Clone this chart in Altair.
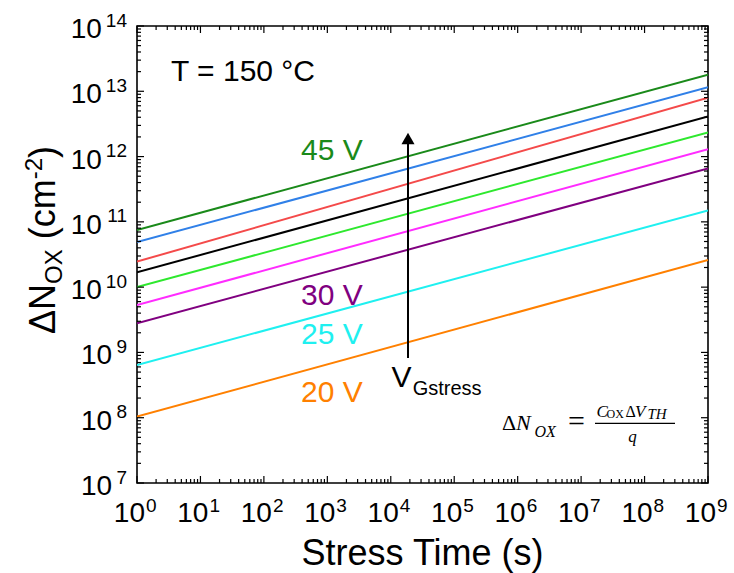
import altair as alt
import pandas as pd

# ---------------- data ----------------
series = ["20 V", "25 V", "30 V", "32.5 V", "35 V", "37.5 V", "40 V", "42.5 V", "45 V"]
colors = ["#ff8000", "#1ff0f0", "#800080", "#ff2cff", "#2ee82e", "#000000",
          "#f44a4a", "#3080e8", "#1a8a1a"]
t_start = 1.0
t_end = 1e9
n_start = [1.04e8, 6.4e8, 2.8e9, 5.3e9, 1.0e10, 1.69e10, 2.46e10, 4.9e10, 7.5e10]
n_end = [2.6e10, 1.5e11, 6.6e11, 1.3e12, 2.35e12, 4.1e12, 8.0e12, 1.15e13, 1.8e13]

x_exps = list(range(0, 10))
y_exps = list(range(7, 15))

labeled = ["45 V", "30 V", "25 V", "20 V"]

# ---------------- layout ----------------
W, H = 571, 457
FONT = "Liberation Sans"
SERIF = "Liberation Serif"

xs = alt.Scale(type="log", domain=[1, 1e9], nice=False)
ys = alt.Scale(type="log", domain=[1e7, 1e14], nice=False)

rows = []
for s, a, b in zip(series, n_start, n_end):
    rows.append({"series": s, "t": t_start, "n": a})
    rows.append({"series": s, "t": t_end, "n": b})
lines_df = pd.DataFrame(rows)

lines = alt.Chart(lines_df).mark_line(strokeWidth=2, clip=True).encode(
    x=alt.X("t:Q", scale=xs, axis=None),
    y=alt.Y("n:Q", scale=ys, axis=None),
    color=alt.Color("series:N", scale=alt.Scale(domain=series, range=colors), legend=None),
    detail="series:N",
)

x_major = [10.0 ** e for e in x_exps]
x_minor = [m * 10.0 ** e for e in x_exps[:-1] for m in range(2, 10)]
y_major = [10.0 ** e for e in y_exps]
y_minor = [m * 10.0 ** e for e in y_exps[:-1] for m in range(2, 10)]


def xticks(vals, length, top):
    df = pd.DataFrame({"t": vals})
    if top:
        yy, yy2 = alt.value(0), alt.value(length)
    else:
        yy, yy2 = alt.value(H), alt.value(H - length)
    return alt.Chart(df).mark_rule(color="black", strokeWidth=1.2).encode(
        x=alt.X("t:Q", scale=xs, axis=None), y=yy, y2=yy2)


def yticks(vals, length, right):
    df = pd.DataFrame({"n": vals})
    if right:
        xx, xx2 = alt.value(W), alt.value(W - length)
    else:
        xx, xx2 = alt.value(0), alt.value(length)
    return alt.Chart(df).mark_rule(color="black", strokeWidth=1.2).encode(
        y=alt.Y("n:Q", scale=ys, axis=None), x=xx, x2=xx2)


ticks = [
    xticks(x_major, 7, False), xticks(x_minor, 4, False),
    xticks(x_major, 7, True), xticks(x_minor, 4, True),
    yticks(y_major, 7, False), yticks(y_minor, 4, False),
    yticks(y_major, 7, True), yticks(y_minor, 4, True),
]

# x tick labels
xlab_df = pd.DataFrame({"t": x_major, "e": [str(e) for e in x_exps]})
xlab10 = alt.Chart(xlab_df).mark_text(
    text="10", align="right", baseline="alphabetic", dx=8, fontSize=28, font=FONT, color="black"
).encode(x=alt.X("t:Q", scale=xs, axis=None), y=alt.value(H + 39))
xlabe = alt.Chart(xlab_df).mark_text(
    align="left", baseline="alphabetic", dx=9, fontSize=19, font=FONT, color="black"
).encode(x=alt.X("t:Q", scale=xs, axis=None), y=alt.value(H + 29), text="e:N")

# y tick labels
ylab_layers = []
for nd, x10 in [(1, -24.8), (2, -35.2)]:
    sub = [e for e in y_exps if len(str(e)) == nd]
    df = pd.DataFrame({"n": [10.0 ** e for e in sub], "e": [str(e) for e in sub]})
    ylab_layers.append(alt.Chart(df).mark_text(
        text="10", align="right", baseline="alphabetic", dy=12, fontSize=28, font=FONT, color="black"
    ).encode(y=alt.Y("n:Q", scale=ys, axis=None), x=alt.value(x10)))
    ylab_layers.append(alt.Chart(df).mark_text(
        align="right", baseline="alphabetic", dy=0.5, fontSize=19, font=FONT, color="black"
    ).encode(y=alt.Y("n:Q", scale=ys, axis=None), x=alt.value(-10), text="e:N"))

one = pd.DataFrame({"a": [0]})


def txt(s, x, y, size, color="black", font=FONT, align="left", style="normal", angle=0):
    kw = dict(text=s, align=align, baseline="alphabetic", fontSize=size, font=font,
              color=color, fontStyle=style)
    if angle:
        kw["angle"] = angle
    return alt.Chart(one).mark_text(**kw).encode(x=alt.value(x), y=alt.value(y))


annots = []
# x title
annots.append(txt("Stress Time (s)", W / 2, 539, 36, align="center"))
# y title (rotated pieces): text, size, baseline shift, advance (px)
pieces = [("ΔN", 36, 0, 50.0), ("OX", 24, 7, 44.7), ("(cm", 36, 0, 60.0),
          ("-2", 24, -13, 21.3), (")", 36, 0, 12.0)]
ypos = 308.0
for s, size, shift, adv in pieces:
    annots.append(txt(s, -82 + shift, ypos, size, angle=270))
    ypos -= adv

# temperature
annots.append(txt("T = 150 °C", 34, 55, 30))
# series labels
lab_colors = dict(zip(series, colors))
for s, yb in zip(labeled, [134, 279, 318, 376]):
    annots.append(txt(s, 164, yb, 30, color=lab_colors[s]))

# arrow
arrow_line = alt.Chart(one).mark_rule(color="black", strokeWidth=2).encode(
    x=alt.value(271), y=alt.value(332), y2=alt.value(118))
arrow_head = alt.Chart(one).mark_point(
    shape="triangle-up", filled=True, size=169, color="black", opacity=1, strokeWidth=0
).encode(x=alt.value(271), y=alt.value(112.5))
annots.append(txt("V", 254.5, 360.7, 30))
annots.append(txt("Gstress", 275.7, 369, 20))

# formula
annots.append(txt("Δ", 365, 404, 22, font=SERIF))
annots.append(txt("N", 379, 404, 22, font=SERIF, style="italic"))
annots.append(txt("OX", 397.5, 410.5, 16, font=SERIF, style="italic"))
annots.append(txt("=", 439.5, 405, 30, font=SERIF, align="center"))
frac = alt.Chart(one).mark_rule(color="black", strokeWidth=1.2).encode(
    x=alt.value(458), x2=alt.value(538), y=alt.value(397.3))
annots.append(txt("C", 459.5, 390.7, 17, font=SERIF, style="italic"))
annots.append(txt("OX", 469.5, 391.7, 12, font=SERIF))
annots.append(txt("Δ", 488.5, 390.7, 16, font=SERIF))
annots.append(txt("V", 498, 390.7, 17, font=SERIF, style="italic"))
annots.append(txt("TH", 510.5, 393, 15, font=SERIF, style="italic"))
annots.append(txt("q", 495.5, 415.7, 17, font=SERIF, style="italic", align="center"))

chart = alt.layer(
    lines, *ticks, xlab10, xlabe, *ylab_layers, *annots, arrow_line, arrow_head, frac
).properties(
    width=W, height=H,
    padding={"left": 137, "top": 26, "right": 26, "bottom": 90},
    autosize=alt.AutoSizeParams(type="none"),
    background="white",
).configure_view(stroke="black", strokeWidth=1.6)

chart.save("out.html", embed_options={"renderer": "svg", "actions": False})
